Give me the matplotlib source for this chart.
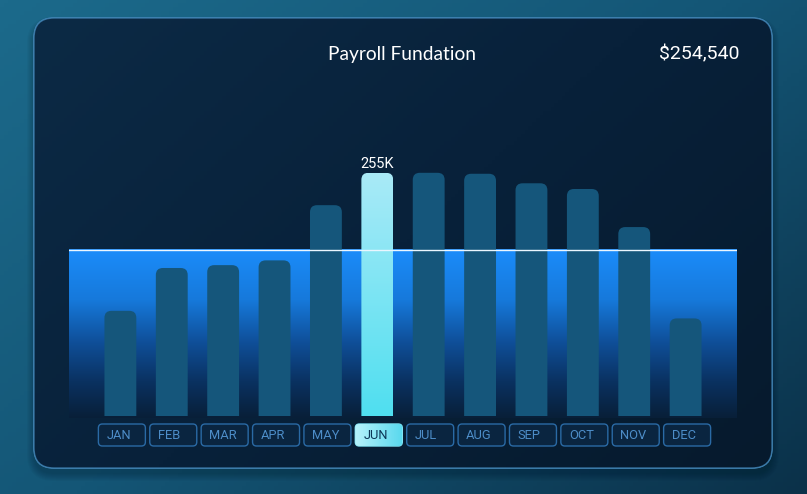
import matplotlib
matplotlib.use("Agg")
import matplotlib.pyplot as plt
import numpy as np
from matplotlib.colors import LinearSegmentedColormap
from matplotlib.patches import FancyBboxPatch, Rectangle

# data (K USD)
months = ["JAN", "FEB", "MAR", "APR", "MAY", "JUN",
          "JUL", "AUG", "SEP", "OCT", "NOV", "DEC"]
payroll_k = [110, 155, 158, 163, 221, 255, 255, 254, 244, 238, 198, 102]
highlight = "JUN"
highlight_label = "255K"
baseline_k = 174
title = "Payroll Fundation"
total_label = "$254,540"

W, H = 807, 494
fig = plt.figure(figsize=(W / 100, H / 100), dpi=100)

# background axes in pixel coords (top-origin)
bg = fig.add_axes([0, 0, 1, 1])
bg.set_xlim(0, W)
bg.set_ylim(H, 0)
bg.axis("off")

xx, yy = np.meshgrid(np.linspace(0, 1, 200), np.linspace(0, 1, 120))
outer_cmap = LinearSegmentedColormap.from_list("outer", ["#1c6a8b", "#145676", "#0b3149"])
bg.imshow(0.55 * xx + 0.45 * yy, extent=(0, W, H, 0), cmap=outer_cmap,
          aspect="auto", zorder=0)

# card shadow
for k in range(8):
    s = FancyBboxPatch((34 - k, 21 - k + 3), 738 + 2 * k, 450 + 2 * k,
                       boxstyle=f"round,pad=0,rounding_size={20 + k}",
                       fc="#041220", ec="none", alpha=0.035, zorder=1)
    bg.add_patch(s)

card = FancyBboxPatch((34, 18), 738, 450, boxstyle="round,pad=0,rounding_size=20",
                      fc="#0a2540", ec="#4a8dbd", lw=1.0, zorder=2)
bg.add_patch(card)
card_cmap = LinearSegmentedColormap.from_list("card", ["#0c2a45", "#08213a", "#061a2d"])
im = bg.imshow(0.6 * xx + 0.4 * yy, extent=(34, 772, 468, 18), cmap=card_cmap,
               aspect="auto", zorder=2.1)
im.set_clip_path(card)
edge = FancyBboxPatch((34, 18), 738, 450, boxstyle="round,pad=0,rounding_size=20",
                      fc="none", ec="#3f82b3", lw=1.0, alpha=0.8, zorder=2.2)
bg.add_patch(edge)

bg.text(402, 60, title, ha="center", va="baseline", fontsize=13.8,
        color="white", family=["Lato", "DejaVu Sans"], zorder=5)
bg.text(740, 59.5, total_label, ha="right", va="baseline", fontsize=14,
        color="white", family=["Roboto", "DejaVu Sans"], zorder=5)

# chart axes
ax = fig.add_axes([69 / W, (H - 418) / H, 668 / W, 328 / H])
ax.set_xlim(0, len(months) + 1)
ax.set_ylim(-2.6, 342)
ax.axis("off")
ax.patch.set_alpha(0)

band_cmap = LinearSegmentedColormap.from_list(
    "band", [(0.0, "#1b8cfa"), (0.3, "#1679db"), (0.55, "#0f4f99"),
             (0.78, "#0a3262"), (1.0, "#081f38")])
grad = np.linspace(0, 1, 256).reshape(-1, 1)
ax.imshow(grad, extent=(0, len(months) + 1, -2.6, baseline_k), cmap=band_cmap,
          aspect="auto", origin="upper", zorder=1)
ax.plot([0, len(months) + 1], [baseline_k, baseline_k], color="#eaf6ff", lw=1.0, zorder=4)

bar_w = 0.62
px_per_x = 668 / (len(months) + 1)
px_per_k = 328 / (342 + 2.6)
r = 7 / px_per_x
asp = px_per_x / px_per_k
clip = Rectangle((-1, 0), len(months) + 3, 500, transform=ax.transData)

hi_cmap = LinearSegmentedColormap.from_list("hi", ["#a9eaf7", "#4fdff0"])
for i, (m, v) in enumerate(zip(months, payroll_k)):
    x = i + 1
    is_hi = m == highlight
    p = FancyBboxPatch((x - bar_w / 2, -30), bar_w, v + 30,
                       boxstyle=f"round,pad=0,rounding_size={r}", mutation_aspect=asp,
                       fc="none" if is_hi else "#15567b", ec="none", zorder=3)
    ax.add_patch(p)
    p.set_clip_path(clip)
    if is_hi:
        g = ax.imshow(grad, extent=(x - bar_w / 2, x + bar_w / 2, 0, v), cmap=hi_cmap,
                      aspect="auto", origin="upper", zorder=3)
        g.set_clip_path(p)
        ax.text(x, v + 2, highlight_label, ha="center", va="bottom", fontsize=10.5,
                color="white", family=["Roboto", "DejaVu Sans"], zorder=5)

# month label boxes
to_bg = bg.transData.inverted()
box_cmap = LinearSegmentedColormap.from_list("box", ["#b6f2fb", "#5ad9ee"])
for i, m in enumerate(months):
    cx = to_bg.transform(ax.transData.transform((i + 1, 0)))[0]
    left = cx - 22
    is_hi = m == highlight
    b = FancyBboxPatch((left, 424), 47, 22, boxstyle="round,pad=0,rounding_size=4",
                       fc="#0a2540" if not is_hi else "none",
                       ec="#2a6aa5" if not is_hi else "#7fe3f3", lw=1.0, zorder=6)
    bg.add_patch(b)
    if is_hi:
        gi = bg.imshow(np.linspace(0, 1, 64).reshape(1, -1), extent=(left, left + 47, 446, 424),
                       cmap=box_cmap, aspect="auto", zorder=6.1)
        gi.set_clip_path(b)
    bg.text(left + 8, 435.5, m, ha="left", va="center", fontsize=9.3,
            color="#0c3656" if is_hi else "#4d8dc8",
            family=["Roboto", "DejaVu Sans"], zorder=7)

fig.savefig("out.png", dpi=100)
